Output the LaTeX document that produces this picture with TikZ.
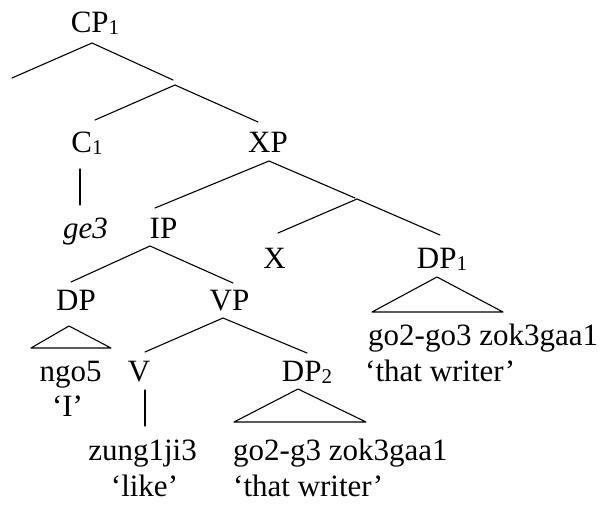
\documentclass[tikz,border=0pt]{standalone}
\usepackage{fontspec}
\setmainfont{Liberation Serif}
\newcommand\subn[1]{\raisebox{-0.08em}{\fontsize{21}{21}\selectfont #1}}
\tikzset{
  lbl/.style={anchor=base, inner sep=0pt, font=\fontsize{31}{36}\selectfont},
  lblw/.style={anchor=base west, inner sep=0pt, font=\fontsize{31}{36}\selectfont},
  edge/.style={line width=1.1pt, line cap=round, line join=round}
}
\begin{document}
\begin{tikzpicture}[x=1pt,y=-1pt]
\useasboundingbox (0,0) rectangle (603,506);
% labels
\node[lbl] (cp1) at (95,32) {CP\subn{1}};
\node[lbl] (c1) at (87,152) {C\subn{1}};
\node[lbl] (xp) at (268,152) {XP};
\node[lbl] (ge) at (85.5,238) {\textit{ge3}};
\node[lbl] (ip) at (163.5,238) {IP};
\node[lbl] (x) at (274.5,268) {X};
\node[lbl] (dp1) at (442,268) {DP\subn{1}};
\node[lbl] (dp) at (76,310) {DP};
\node[lbl] (vp) at (229.5,310) {VP};
\node[lblw] (dp1w) at (368,345) {go2-go3 zok3gaa1};
\node[lblw] (dp1g) at (365,381) {‘that writer’};
\node[lbl] (ngo) at (70.5,381) {ngo5};
\node[lbl] (ngog) at (67.5,416) {‘I’};
\node[lbl] (v) at (139,381) {V};
\node[lbl] (dp2) at (307,381) {DP\subn{2}};
\node[lbl] (zung) at (142.5,460) {zung1ji3};
\node[lbl] (zungg) at (144.5,496) {‘like’};
\node[lblw] (dp2w) at (233,460) {go2-g3 zok3gaa1};
\node[lblw] (dp2g) at (233,496) {‘that writer’};
% branch points
\coordinate (cpA) at (92,43);
\coordinate (cpL) at (12,78);
\coordinate (cpR) at (173,80);
\coordinate (cbA) at (175,85);
\coordinate (cbL) at (95,120);
\coordinate (cbR) at (258,122);
\coordinate (c1T) at (80,169);
\coordinate (c1B) at (80,205);
\coordinate (xpA) at (269,161);
\coordinate (xpL) at (155,208);
\coordinate (xpR) at (355,198);
\coordinate (xbA) at (357,199);
\coordinate (xbL) at (278,233);
\coordinate (xbR) at (440,235);
\coordinate (ipA) at (150,246);
\coordinate (ipL) at (71,282);
\coordinate (ipR) at (233,283);
\coordinate (dp1A) at (437,277);
\coordinate (dp1L) at (372,312);
\coordinate (dp1R) at (503,312);
\coordinate (vpA) at (223,318);
\coordinate (vpL) at (145,352);
\coordinate (vpR) at (307,353);
\coordinate (dpA) at (69,326);
\coordinate (dpL) at (31,348);
\coordinate (dpR) at (111,348);
\coordinate (vT) at (145,390);
\coordinate (vB) at (145,426);
\coordinate (dp2A) at (298,389);
\coordinate (dp2L) at (234,422);
\coordinate (dp2R) at (366,422);
% connectors
\draw[edge] (cpL) -- (cpA) -- (cpR);
\draw[edge] (cbL) -- (cbA) -- (cbR);
\draw[edge] (c1T) -- (c1B);
\draw[edge] (xpL) -- (xpA) -- (xpR);
\draw[edge] (xbL) -- (xbA) -- (xbR);
\draw[edge] (ipL) -- (ipA) -- (ipR);
\draw[edge] (dp1A) -- (dp1L) -- (dp1R) -- cycle;
\draw[edge] (vpL) -- (vpA) -- (vpR);
\draw[edge] (dpA) -- (dpL) -- (dpR) -- cycle;
\draw[edge] (vT) -- (vB);
\draw[edge] (dp2A) -- (dp2L) -- (dp2R) -- cycle;
\end{tikzpicture}
\end{document}
